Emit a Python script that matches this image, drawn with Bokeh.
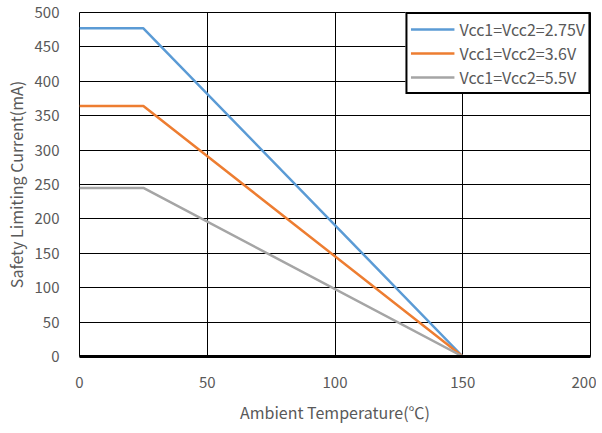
from bokeh.plotting import figure
from bokeh.models import Range1d, FixedTicker, Legend, LegendItem
from bokeh.embed import file_html
from bokeh.resources import INLINE

temps = [0, 25, 150]
i_275 = [477, 477, 0]
i_36 = [364, 364, 0]
i_55 = [245, 245, 0]
labels = ["Vcc1=Vcc2=2.75V", "Vcc1=Vcc2=3.6V", "Vcc1=Vcc2=5.5V"]
colors = ["#5b9bd5", "#ed7d31", "#a5a5a5"]
x_ticks = [0, 50, 100, 150, 200]
y_ticks = [0, 50, 100, 150, 200, 250, 300, 350, 400, 450, 500]

FONT = "Noto Sans CJK SC"
TXT = "#595959"

p = figure(frame_width=511, frame_height=344, output_backend="svg", toolbar_location=None,
           x_range=Range1d(0, 200), y_range=Range1d(0, 500),
           min_border_left=69, min_border_right=6, min_border_top=12, min_border_bottom=60)
p.outline_line_color = "black"
p.outline_line_width = 1

for ax in (p.xaxis[0], p.yaxis[0]):
    ax.major_tick_line_color = None
    ax.minor_tick_line_color = None
    ax.major_label_text_font = FONT
    ax.major_label_text_font_size = "15px"
    ax.major_label_text_color = TXT
    ax.axis_label_text_font = FONT
    ax.axis_label_text_font_size = "16px"
    ax.axis_label_text_color = TXT
    ax.axis_label_text_font_style = "normal"

p.xaxis.major_label_standoff = 14
p.yaxis.major_label_standoff = 14
p.xaxis.ticker = FixedTicker(ticks=x_ticks)
p.yaxis.ticker = FixedTicker(ticks=y_ticks)
p.xaxis.axis_line_color = "black"
p.xaxis.axis_line_width = 3
p.yaxis.axis_line_color = None
p.xaxis.axis_label = "Ambient Temperature(℃)"
p.yaxis.axis_label = "Safety Limiting Current(mA)"
p.xaxis.axis_label_standoff = 9
p.yaxis.axis_label_standoff = 4

p.xgrid.grid_line_color = "black"
p.ygrid.grid_line_color = "black"
p.xgrid.grid_line_width = 1
p.ygrid.grid_line_width = 1

items = []
for ys, c, lab in zip([i_275, i_36, i_55], colors, labels):
    r = p.line(temps, ys, line_color=c, line_width=2.5)
    items.append(LegendItem(label=lab, renderers=[r]))

legend = Legend(items=items, location="top_right", margin=0,
                label_text_font=FONT, label_text_font_size="16px", label_text_color=TXT,
                border_line_color="black", border_line_width=2, border_line_alpha=1.0,
                glyph_width=44, padding=3, spacing=0, label_standoff=5,
                background_fill_alpha=1)
p.add_layout(legend)

open("out.html", "w").write(file_html(p, INLINE))
